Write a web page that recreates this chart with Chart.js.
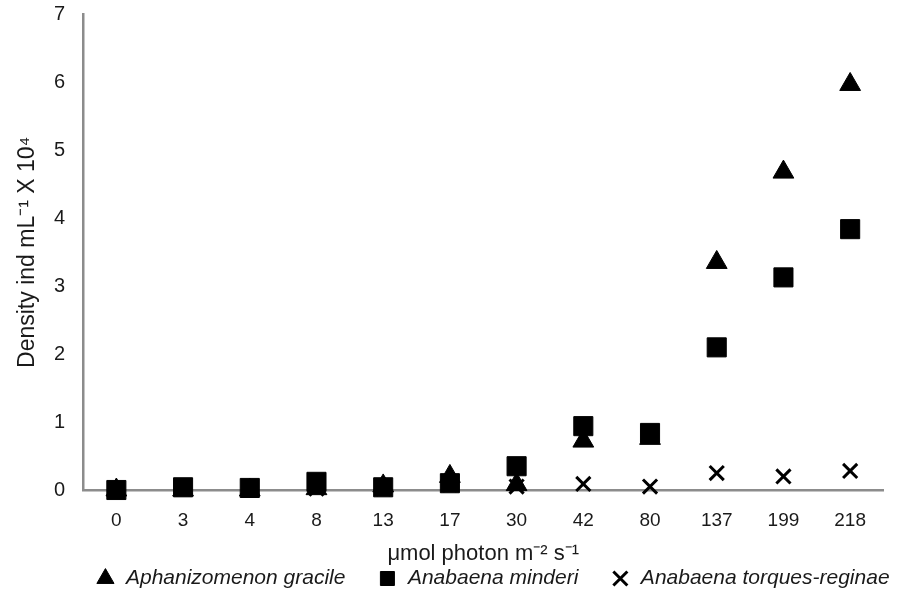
<!DOCTYPE html>
<html>
<head>
<meta charset="utf-8">
<script src="https://cdn.jsdelivr.net/npm/chart.js@4/dist/chart.umd.min.js"></script>
<style>
  html, body { margin: 0; padding: 0; background: #fff; }
  #wrap { width: 898px; height: 603px; }
</style>
</head>
<body>
<div id="wrap"><canvas id="chart" width="898" height="603"></canvas></div>
<script>
// light intensity categories (µmol photon m-2 s-1)
const categories = ['0', '3', '4', '8', '13', '17', '30', '42', '80', '137', '199', '218'];

// density, ind mL-1 x 10^4
const aphanizomenon = [0, 0, 0, 0.02, 0.06, 0.2, 0.08, 0.72, 0.76, 3.35, 4.68, 5.97];
const minderi = [0, 0.04, 0.03, 0.12, 0.04, 0.1, 0.35, 0.94, 0.84, 2.1, 3.13, 3.84];
const torques = [0, 0.02, 0.02, 0.02, 0.02, 0.08, 0.05, 0.09, 0.05, 0.25, 0.2, 0.28];

const yTicks = [0, 1, 2, 3, 4, 5, 6, 7];

const sans = "'Liberation Sans', Arial, sans-serif";
const axisGray = '#8c8c8c';
const ink = '#1a1a1a';

// legend sits a bit right of centre in the original
const legendShift = {
    id: 'legendShift',
    afterLayout(chart) {
        chart.legend.left += 48;
        chart.legend.right += 48;
    }
};

const ctx = document.getElementById('chart').getContext('2d');

new Chart(ctx, {
    type: 'line',
    data: {
        labels: categories,
        datasets: [{
            label: 'Aphanizomenon gracile',
            data: aphanizomenon,
            pointStyle: 'triangle',
            pointRadius: 12,
            borderWidth: 1,
            order: 2
        }, {
            label: 'Anabaena minderi',
            data: minderi,
            pointStyle: 'rect',
            pointRadius: 13.5,
            borderWidth: 1,
            order: 1
        }, {
            label: 'Anabaena torques-reginae',
            data: torques,
            pointStyle: 'crossRot',
            pointRadius: 10,
            borderWidth: 3,
            order: 3
        }].map(ds => Object.assign(ds, {
            showLine: false,
            clip: false,
            backgroundColor: '#000',
            borderColor: '#000',
            pointHoverRadius: ds.pointRadius
        }))
    },
    options: {
        responsive: false,
        animation: false,
        layout: { padding: { top: 0, right: 9, left: 0, bottom: 4 } },
        plugins: {
            tooltip: { enabled: false },
            legend: {
                position: 'bottom',
                labels: {
                    usePointStyle: true,
                    sort: (a, b) => a.datasetIndex - b.datasetIndex,
                    boxWidth: 20,
                    boxHeight: 14,
                    padding: 32,
                    color: ink,
                    font: { family: sans, size: 21, style: 'italic' }
                }
            }
        },
        scales: {
            x: {
                offset: true,
                grid: { display: false },
                border: { display: true, color: axisGray, width: 2.5 },
                ticks: { color: ink, padding: 11, font: { family: sans, size: 19 } },
                title: {
                    display: true,
                    text: 'μmol photon m⁻² s⁻¹',
                    color: ink,
                    padding: { top: 0, bottom: -31 },
                    font: { family: sans, size: 22 }
                },
                afterFit: scale => { scale.height = 46; }
            },
            y: {
                min: 0,
                max: 7,
                grid: { display: false },
                border: { display: true, color: axisGray, width: 2.5 },
                afterBuildTicks: scale => { scale.ticks = yTicks.map(v => ({ value: v })); },
                ticks: { color: ink, padding: 10, font: { family: sans, size: 20 } },
                title: {
                    display: true,
                    text: 'Density ind mL⁻¹ X 10⁴',
                    color: ink,
                    padding: { top: 14, bottom: 0 },
                    font: { family: sans, size: 23 }
                },
                afterFit: scale => {
                    scale.width = 83;
                    scale.paddingTop = 12;
                    scale.paddingBottom = 12;
                }
            }
        }
    },
    plugins: [legendShift]
});
</script>
</body>
</html>
